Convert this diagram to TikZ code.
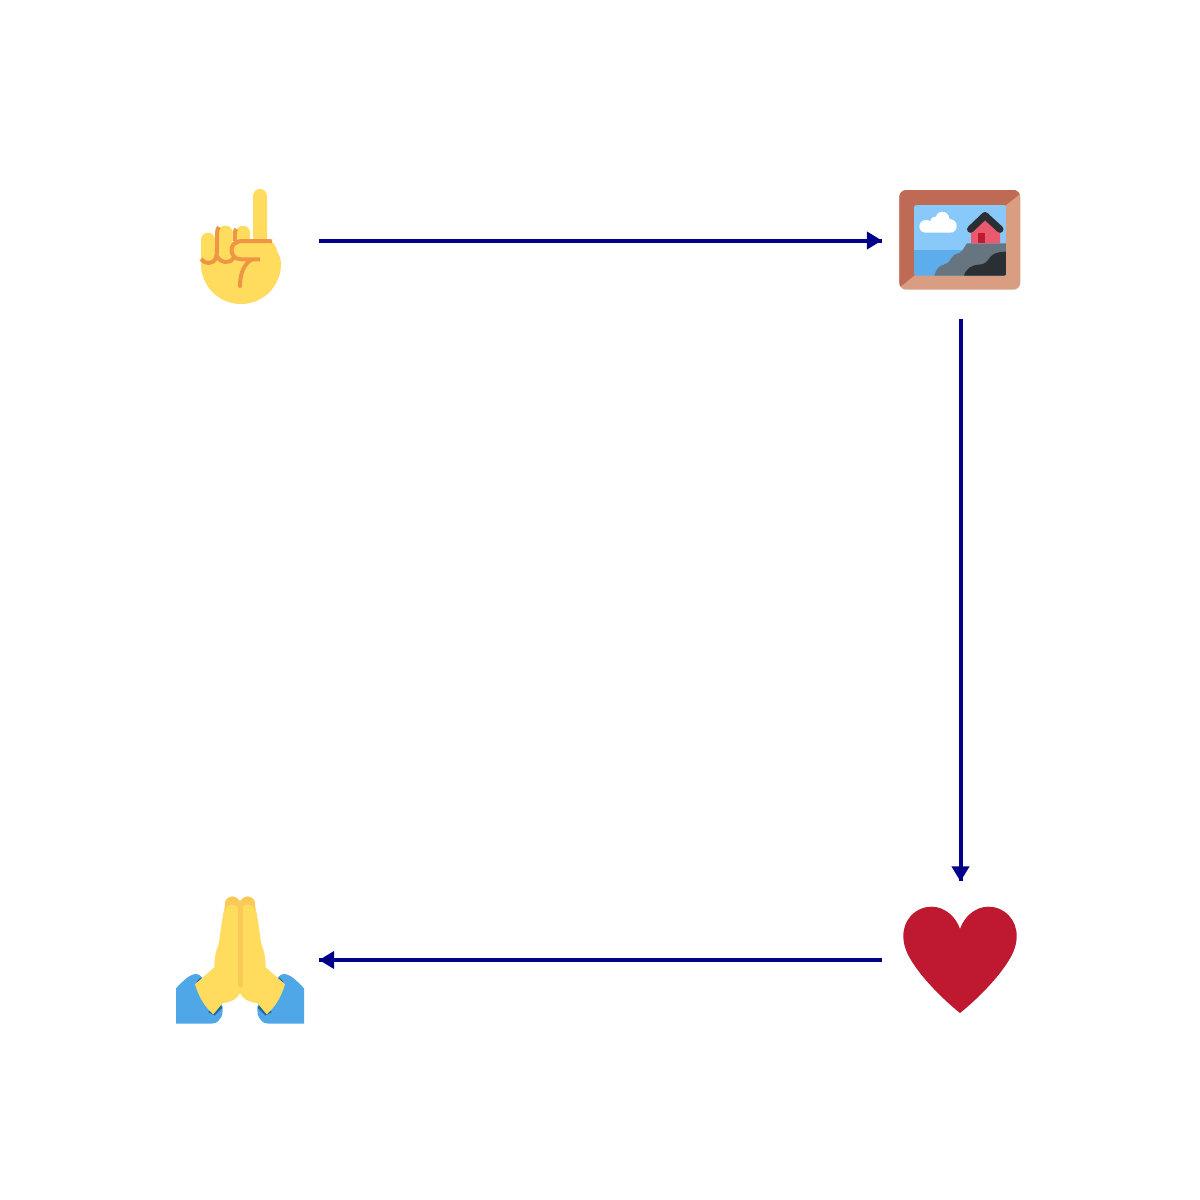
\documentclass[tikz,border=0pt]{standalone}
\usetikzlibrary{arrows.meta,decorations.markings}
\definecolor{linkblue}{HTML}{00008B}
\definecolor{skin}{HTML}{FFDC5D}
\definecolor{skinline}{HTML}{EF9645}
\definecolor{skindark}{HTML}{F9CA55}
\definecolor{sleeve}{HTML}{50A7E8}
\definecolor{cuff}{HTML}{226699}
\definecolor{framedark}{HTML}{BE6A54}
\definecolor{framelight}{HTML}{D99E82}
\definecolor{sky}{HTML}{88C9F9}
\definecolor{sea}{HTML}{5DADEC}
\definecolor{house}{HTML}{EA596E}
\definecolor{crimson}{HTML}{BE1931}
\definecolor{rock}{HTML}{66757F}
\definecolor{coal}{HTML}{292F33}
\tikzset{
  x=0.01cm,y=-0.01cm,
  slot/.style={minimum size=1.57cm,inner sep=0pt,outer sep=0pt},
  link/.style={draw=linkblue,line width=0.04cm,postaction={decorate,decoration={markings,
    mark=at position 1 with {\arrow[linkblue]{Triangle[length=0.15cm,width=0.17cm]}}}}},
  crease/.style={draw=skinline,line width=0.04cm,line cap=round,line join=round}
}
\begin{document}
\begin{tikzpicture}
\useasboundingbox (0,0) rectangle (1200,1200);
\fill[white] (0,0) rectangle (1200,1200);
\node[slot] (hand) at (240.5,240.5) {};
\node[slot] (photo) at (960.5,240.5) {};
\node[slot] (heart) at (960.5,960) {};
\node[slot] (pray) at (240.5,960) {};

% pointing hand
\fill[skin,rounded corners=0.07cm] (253,262) -- (253,189) -- (267,189) -- (267,262) -- cycle;
\fill[skin,rounded corners=0.07cm] (201,275) -- (201,232.7) -- (215,232.7) -- (215,275) -- cycle;
\fill[skin,rounded corners=0.07cm] (218,275) -- (218,225.7) -- (232.7,225.7) -- (232.7,275) -- cycle;
\fill[skin,rounded corners=0.07cm] (236,275) -- (236,225.7) -- (250,225.7) -- (250,275) -- cycle;
\fill[skin] (201,262) -- (236,241) -- (270,241) .. controls (275,243) and (276,247) .. (278,253)
  .. controls (280,257) and (281,260) .. (281,264)
  arc[start angle=0,end angle=180,radius=40] -- cycle;
\draw[crease,line cap=butt] (272,241.5) .. controls (270,241) and (268,241) .. (266,241) -- (243,241) .. controls (235,241) and (231.5,245) .. (231.5,250)
  .. controls (231.5,255) and (235,259.3) .. (241,259.3) -- (260,259.3);
\draw[crease] (251,260) .. controls (244,264) and (240,274) .. (240,286);
\draw[crease,line cap=butt] (201,259) .. controls (205,264.5) and (213,264.5) .. (216,258) .. controls (216.8,255) and (217,252) .. (217,248) -- (217,233)
  .. controls (217,230) and (218,228) .. (219,227);
\draw[crease,line cap=butt] (217,256) .. controls (220,263.5) and (230,264) .. (233.5,258);
\draw[crease,line cap=butt] (234.8,241) -- (234.8,233) .. controls (234.8,231) and (235.5,230) .. (236.5,229);

% framed picture
\begin{scope}
\clip[rounded corners=0.07cm] (899.3,190) rectangle (1020.3,289.7);
\fill[framelight] (895,185) rectangle (1025,295);
\fill[framedark] (895,185) -- (1025,185) -- (1025,190) -- (1006,205) -- (914,275.7) -- (895,291) -- cycle;
\end{scope}
\begin{scope}
\clip[rounded corners=0.025cm] (914,205) rectangle (1006.3,275.7);
\fill[sky] (914,205) rectangle (1006.3,250);
\fill[sea] (914,250) rectangle (1006.3,275.7);
\fill[rock] (934.3,275.7) .. controls (936,270) and (938,266) .. (944,264.5)
  .. controls (950,263.5) and (950,258) .. (954,255) .. controls (958,252.5) and (961,253.5) .. (962,251)
  -- (967,243.3) -- (1006.3,243.3) -- (1006.3,275.7) -- cycle;
\fill[coal] (964,275.7) .. controls (966,268) and (972,265) .. (980,264.5)
  .. controls (988,264) and (988,258) .. (993,254.5) .. controls (997,252) and (1002,252) .. (1006.3,251.5)
  -- (1006.3,275.7) -- cycle;
\end{scope}
\fill[white] (926,232.7) .. controls (922,232.7) and (919.3,230) .. (919.3,226.5)
  .. controls (919.3,222.5) and (922.5,220) .. (926,220) .. controls (928,220) and (930,221) .. (930.5,221)
  .. controls (931,217.5) and (934,216.5) .. (936,216.5) .. controls (937,213) and (940,211.7) .. (942,211.7)
  .. controls (946,211.7) and (949,214.5) .. (949.5,219) .. controls (954,219.5) and (956.7,222) .. (956.7,226)
  .. controls (956.7,230) and (954,232.7) .. (950,232.7) -- cycle;
\fill[house] (971,243.3) -- (971,230) -- (985,218) -- (1000,230) -- (1000,243.3) -- cycle;
\fill[crimson] (978.3,233) rectangle (985,243.3);
\draw[coal,line width=0.07cm,line cap=round,line join=round] (970.5,229.3) -- (985,215.5) -- (1000,229.3);

% folded hands
\foreach \s/\o in {1/0,-1/480}{
\begin{scope}[xshift=\o*0.01cm,xscale=\s]
\fill[sleeve] (176,1023.7) -- (176,988.3) .. controls (182,982) and (188,976) .. (193,974.5)
  .. controls (197,973) and (201,975) .. (203,979) -- (222.5,1006) .. controls (223,1012) and (222.5,1017) .. (219,1020)
  .. controls (217,1023) and (214,1023.7) .. (211,1023.7) -- cycle;
\fill[cuff] (197,981) -- (201,977.5) -- (207,985) -- (200,989) -- cycle;
\fill[cuff] (208,1012) -- (220,1003) -- (222,1008) -- (214.5,1015.5) -- cycle;
\fill[skin] (195,984.3) -- (214.3,967.3) .. controls (214.5,958) and (216,950) .. (218.5,945)
  .. controls (221,930) and (222,918) .. (225,906) -- (226,900) -- (240,900) -- (240,993)
  .. controls (237,999) and (232,1002) .. (222.7,1003) -- (213.3,1014.3) .. controls (204,1006) and (199,997) .. (195,984.3) -- cycle;
\fill[skindark] (224.8,904) arc[start angle=180,end angle=360,radius=7.6] -- (240,912)
  .. controls (239,907) and (236,904.5) .. (232,904.5) .. controls (228,904.5) and (225.5,907) .. (224.8,912) -- cycle;
\end{scope}}
\draw[skindark,line width=0.05cm,line cap=round] (240,906) -- (240,985);

% heart
\fill[crimson] (960,929) .. controls (956,917) and (945,906.7) .. (931.7,906.7)
  .. controls (915,906.7) and (903.3,920) .. (903.3,936)
  .. controls (903.3,948) and (909,958) .. (917,969) .. controls (928,984) and (945,1001) .. (960,1013)
  .. controls (975,1001) and (992,984) .. (1003,969) .. controls (1011,958) and (1016.7,948) .. (1016.7,936)
  .. controls (1016.7,920) and (1005,906.7) .. (988.3,906.7)
  .. controls (975,906.7) and (964,917) .. (960,929) -- cycle;

% connectors
\draw[link] (hand) -- (photo);
\draw[link] (photo) -- (heart);
\draw[link] (heart) -- (pray);
\end{tikzpicture}
\end{document}
